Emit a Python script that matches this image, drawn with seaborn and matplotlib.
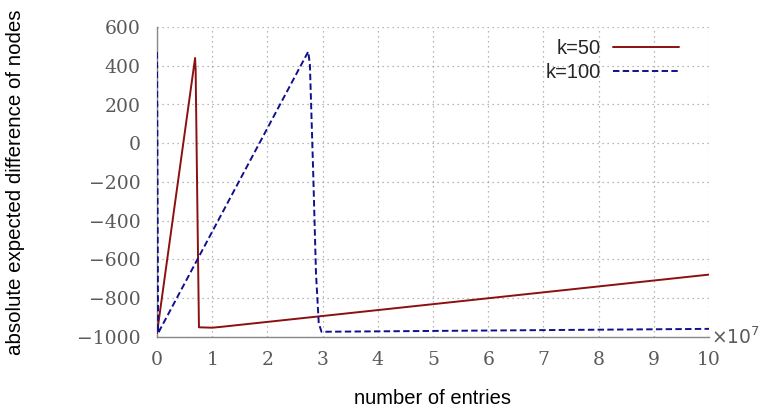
import matplotlib
matplotlib.use("Agg")
import matplotlib.pyplot as plt
import seaborn as sns
import numpy as np
import pandas as pd
from matplotlib.ticker import FuncFormatter

# --- data (x in number of entries, y in nodes) ---
k50_x = [0.0, 0.69e7, 0.70e7, 0.73e7, 0.76e7, 1.0e7, 1.15e7, 10.0e7]
k50_y = [-980, 440, 380, -300, -950, -952, -948, -678]

k100_x = [0.0, 0.02e7, 2.74e7, 2.77e7, 2.83e7, 2.88e7, 2.93e7, 2.98e7, 10.0e7]
k100_y = [470, -980, 473, 404, -154, -670, -928, -973, -958]

labels = ["k=50", "k=100"]
x_ticks = list(range(0, 11))
y_ticks = list(range(-1000, 601, 200))

sns.set_style("white")
plt.rcParams["font.family"] = ["DejaVu Serif"]

fig = plt.figure(figsize=(7.65, 4.11), dpi=100)
ax = fig.add_axes([157/765, 1-337/411, (709-157)/765, (337-27)/411])

df50 = pd.DataFrame({"x": k50_x, "y": k50_y})
df100 = pd.DataFrame({"x": k100_x, "y": k100_y})
sns.lineplot(data=df50, x="x", y="y", ax=ax, sort=False, estimator=None,
             color="#8b1010", linewidth=1.4, label=labels[0], zorder=3)
sns.lineplot(data=df100, x="x", y="y", ax=ax, sort=False, estimator=None,
             color="#10108f", linewidth=1.4, linestyle=(0, (3.3, 1.7)), label=labels[1],
             zorder=3)

ax.set_xlim(0, 10e7)
ax.set_ylim(-1000, 600)
ax.set_xticks([t * 1e7 for t in x_ticks])
ax.set_yticks(y_ticks)
ax.xaxis.set_major_formatter(FuncFormatter(lambda v, p: f"{v/1e7:.0f}"))
ax.yaxis.set_major_formatter(FuncFormatter(lambda v, p: f"{v:.0f}".replace("-", "\u2212")))

for s in ["top", "right"]:
    ax.spines[s].set_visible(False)
for s in ["left", "bottom"]:
    ax.spines[s].set_color("#888888")
    ax.spines[s].set_linewidth(1.0)
ax.tick_params(axis="both", direction="in", length=4, width=0.8, color="#888888",
               labelsize=13.5, labelcolor="#5a5a5a", pad=12)
ax.tick_params(axis="x", pad=10)
ax.grid(True, linestyle=(0, (1, 3)), color="#a0a0a0", linewidth=0.9)
ax.set_xlabel("")
ax.set_ylabel("")

ax.text(1.004, 0.0, r"$\times10^{7}$", transform=ax.transAxes, ha="left", va="center",
        fontsize=13.5, color="#5a5a5a", family="DejaVu Serif")

fig.text(433/765, 1-398/411, "number of entries", ha="center", va="center",
         fontsize=14.5, family="Liberation Sans", color="black")
fig.text(16/765, 1-182/411, "absolute expected difference of nodes", ha="center", va="center",
         rotation=90, fontsize=14.8, family="Liberation Sans", color="black")

leg = ax.legend(loc="upper right", bbox_to_anchor=(0.979, 1.02), frameon=False,
                markerfirst=False, handlelength=3.3, handletextpad=0.6,
                labelspacing=0.27, prop={"family": "Liberation Sans", "size": 14.5})

fig.savefig("out.png", dpi=100)
